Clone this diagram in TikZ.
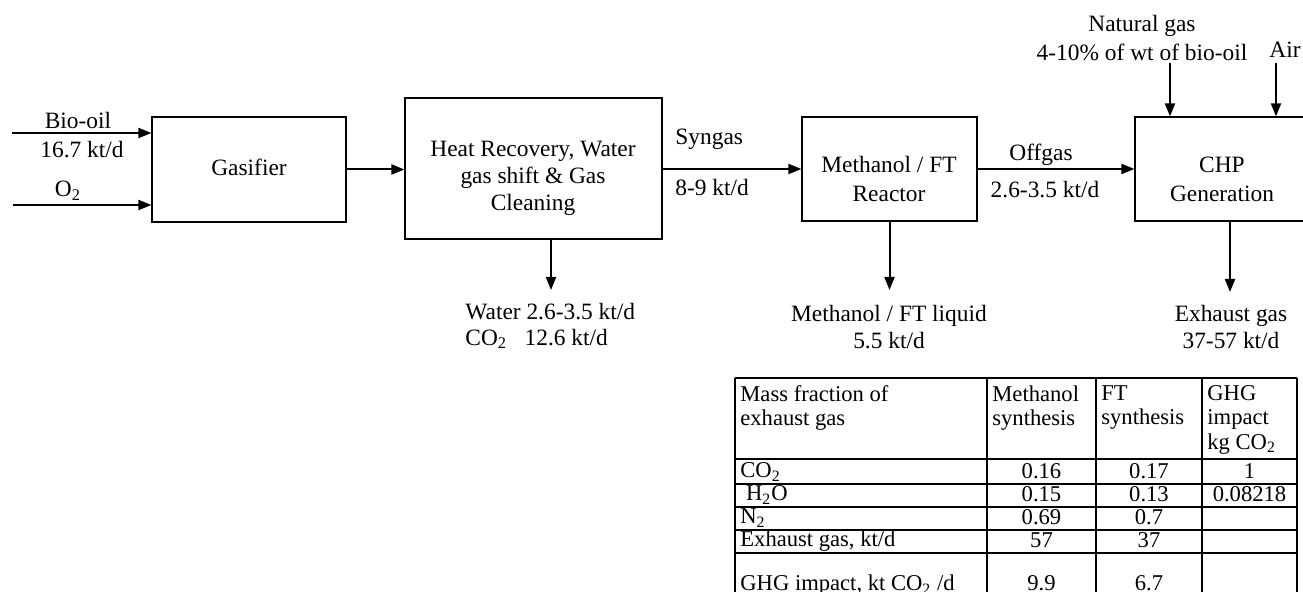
\documentclass[tikz,border=0pt]{standalone}
\usepackage{fontspec}
\setmainfont{Liberation Serif}
\usetikzlibrary{arrows.meta}
\begin{document}
\begin{tikzpicture}[x=0.5pt,y=-0.5pt,
  blk/.style={draw, line width=0.6pt, inner sep=0pt},
  flow/.style={line width=1pt, -{Triangle[length=6.5pt,width=5pt]}},
  txt/.style={inner sep=0pt, align=center, font=\fontsize{11.7}{14}\selectfont},
  ttxt/.style={inner sep=0pt, font=\fontsize{11.3}{12.2}\selectfont},
  grid/.style={line width=0.65pt}
]
\path[use as bounding box, clip] (0,0) rectangle (1303,592);
\fill[white] (0,0) rectangle (1303,592);

% process blocks
\node[blk, minimum width=97pt, minimum height=52.5pt] (gas) at (249,169.5) {};
\node[blk, minimum width=128.5pt, minimum height=70.5pt] (hr) at (533.5,168.5) {};
\node[blk, minimum width=87.5pt, minimum height=52pt] (meoh) at (889.5,169) {};
\node[blk, minimum width=87.5pt, minimum height=52pt] (chp) at (1222.5,169) {};

\node[txt] (gasT) at (249,167) {Gasifier};
\node[txt, font=\fontsize{11.7}{13.5}\selectfont] (hrT) at (533,178) {Heat Recovery, Water\\gas shift \& Gas\\Cleaning};
\node[txt, font=\fontsize{11.7}{14.5}\selectfont] (meohT) at (889,179.5) {Methanol / FT\\Reactor};
\node[txt, font=\fontsize{11.7}{14.5}\selectfont] (chpT) at (1222,179.5) {CHP\\Generation};

% free ends
\coordinate (bioS) at (12,133);
\coordinate (oxS) at (13,205);
\coordinate (hrOut) at (551,290);
\coordinate (meOut) at (889.5,290);
\coordinate (exOut) at (1230,292);
\coordinate (ngIn) at (1170,63);
\coordinate (airIn) at (1276,63);

% connectors
\draw[flow] (bioS) -- (bioS -| gas.west);
\draw[flow] (oxS) -- (oxS -| gas.west);
\draw[flow] (gas.east) -- (gas.east -| hr.west);
\draw[flow] (meoh.west -| hr.east) -- (meoh.west);
\draw[flow] (meoh.east) -- (chp.west);
\draw[flow] (hrOut |- hr.south) -- (hrOut);
\draw[flow] (meoh.south) -- (meOut);
\draw[flow] (exOut |- chp.south) -- (exOut);
\draw[flow] (ngIn) -- (ngIn |- chp.north);
\draw[flow] (airIn) -- (airIn |- chp.north);

% stream labels
\node[txt, anchor=base] (bioT) at (78,129) {Bio-oil};
\node[txt, anchor=base] (bioR) at (82,158) {16.7 kt/d};
\node[txt, anchor=base] (oxT) at (68,197) {O\textsubscript{2}};
\node[txt, anchor=base west] (synT) at (675,145) {Syngas};
\node[txt, anchor=base west] (synR) at (675,196) {8-9 kt/d};
\node[txt, anchor=base] (offT) at (1041,161) {Offgas};
\node[txt, anchor=base] (offR) at (1045,198) {2.6-3.5 kt/d};
\node[txt, anchor=west, align=left, font=\fontsize{11.7}{13}\selectfont] (wT) at (465,326) {Water 2.6-3.5 kt/d\\CO\textsubscript{2}\ \ \ 12.6 kt/d};
\node[txt, font=\fontsize{11.7}{13.6}\selectfont] (meT) at (889,327) {Methanol / FT liquid\\5.5 kt/d};
\node[txt, font=\fontsize{11.7}{13.6}\selectfont] (exT) at (1231,327) {Exhaust gas\\37-57 kt/d};
\node[txt, font=\fontsize{11.7}{14.5}\selectfont] (ngT) at (1142,38) {Natural gas\\4-10\% of wt of bio-oil};
\node[txt, anchor=base] (airT) at (1285,58) {Air};

% table
\foreach \yy in {378,459,484,507,530,553}
  \draw[grid] (735,\yy) -- (1297,\yy);
\foreach \xx in {735,987,1096,1202,1297}
  \draw[grid] (\xx,378) -- (\xx,600);

\node[ttxt, anchor=north west, align=left] (h1) at (740,385) {Mass fraction of\\exhaust gas};
\node[ttxt, anchor=north west, align=left] (h2) at (992,385) {Methanol\\synthesis};
\node[ttxt, anchor=north west, align=left] (h3) at (1101,385) {FT\\synthesis};
\node[ttxt, anchor=north west, align=left] (h4) at (1207,385) {GHG\\impact\\kg CO\textsubscript{2}};

\node[ttxt, anchor=base west] (r1) at (740,478) {CO\textsubscript{2}};
\node[ttxt, anchor=base west] (r2) at (740,501) {\ H\textsubscript{2}O};
\node[ttxt, anchor=base west] (r3) at (740,524) {N\textsubscript{2}};
\node[ttxt, anchor=base west] (r4) at (740,547) {Exhaust gas, kt/d};
\node[ttxt, anchor=base west] (r5) at (740,591) {GHG impact, kt CO\textsubscript{2} /d};

\node[ttxt, anchor=base] (m1) at (1041.5,479) {0.16};
\node[ttxt, anchor=base] (m2) at (1041.5,502) {0.15};
\node[ttxt, anchor=base] (m3) at (1041.5,525) {0.69};
\node[ttxt, anchor=base] (m4) at (1041.5,548) {57};
\node[ttxt, anchor=base] (m5) at (1041.5,591) {9.9};

\node[ttxt, anchor=base] (f1) at (1149,479) {0.17};
\node[ttxt, anchor=base] (f2) at (1149,502) {0.13};
\node[ttxt, anchor=base] (f3) at (1149,525) {0.7};
\node[ttxt, anchor=base] (f4) at (1149,548) {37};
\node[ttxt, anchor=base] (f5) at (1149,591) {6.7};

\node[ttxt, anchor=base] (g1) at (1249.5,479) {1};
\node[ttxt, anchor=base] (g2) at (1249.5,502) {0.08218};
\end{tikzpicture}
\end{document}
